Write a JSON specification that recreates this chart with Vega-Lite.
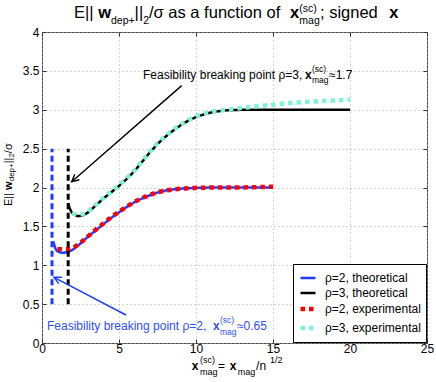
{
  "$schema": "https://vega.github.io/schema/vega-lite/v6.json",
  "width": 385,
  "height": 311,
  "autosize": {"type": "none"},
  "padding": {"left": 42, "top": 32, "right": 9, "bottom": 39},
  "background": "#ffffff",
  "config": {
    "font": "Liberation Sans",
    "view": {"stroke": "#4d4d4d", "strokeWidth": 1},
    "legend": {
      "orient": "bottom-right",
      "offset": 1,
      "fillColor": "#ffffff",
      "strokeColor": "#000000",
      "labelFontSize": 12,
      "labelColor": "#000000",
      "symbolType": "stroke",
      "labelLimit": 200
    }
  },
  "datasets": {
    "theo": [
      {"series": "ρ=2, theoretical", "x": 0.72, "y": 1.31},
      {"series": "ρ=2, theoretical", "x": 0.78, "y": 1.27},
      {"series": "ρ=2, theoretical", "x": 0.88, "y": 1.21},
      {"series": "ρ=2, theoretical", "x": 1.0, "y": 1.18},
      {"series": "ρ=2, theoretical", "x": 1.2, "y": 1.163},
      {"series": "ρ=2, theoretical", "x": 1.4, "y": 1.16},
      {"series": "ρ=2, theoretical", "x": 1.7, "y": 1.17},
      {"series": "ρ=2, theoretical", "x": 2.0, "y": 1.2},
      {"series": "ρ=2, theoretical", "x": 2.5, "y": 1.28},
      {"series": "ρ=2, theoretical", "x": 3.0, "y": 1.37},
      {"series": "ρ=2, theoretical", "x": 3.5, "y": 1.45},
      {"series": "ρ=2, theoretical", "x": 4.0, "y": 1.53},
      {"series": "ρ=2, theoretical", "x": 4.5, "y": 1.61},
      {"series": "ρ=2, theoretical", "x": 5.0, "y": 1.68},
      {"series": "ρ=2, theoretical", "x": 5.5, "y": 1.75},
      {"series": "ρ=2, theoretical", "x": 6.0, "y": 1.81},
      {"series": "ρ=2, theoretical", "x": 6.5, "y": 1.86},
      {"series": "ρ=2, theoretical", "x": 7.0, "y": 1.9},
      {"series": "ρ=2, theoretical", "x": 7.5, "y": 1.935},
      {"series": "ρ=2, theoretical", "x": 8.0, "y": 1.96},
      {"series": "ρ=2, theoretical", "x": 8.5, "y": 1.975},
      {"series": "ρ=2, theoretical", "x": 9.0, "y": 1.985},
      {"series": "ρ=2, theoretical", "x": 10.0, "y": 1.995},
      {"series": "ρ=2, theoretical", "x": 11.0, "y": 2.0},
      {"series": "ρ=2, theoretical", "x": 12.0, "y": 2.0},
      {"series": "ρ=2, theoretical", "x": 13.0, "y": 2.0},
      {"series": "ρ=2, theoretical", "x": 14.0, "y": 2.0},
      {"series": "ρ=2, theoretical", "x": 15.0, "y": 2.0},
      {"series": "ρ=3, theoretical", "x": 1.7, "y": 1.8},
      {"series": "ρ=3, theoretical", "x": 1.78, "y": 1.74},
      {"series": "ρ=3, theoretical", "x": 1.9, "y": 1.69},
      {"series": "ρ=3, theoretical", "x": 2.05, "y": 1.655},
      {"series": "ρ=3, theoretical", "x": 2.25, "y": 1.635},
      {"series": "ρ=3, theoretical", "x": 2.5, "y": 1.635},
      {"series": "ρ=3, theoretical", "x": 2.75, "y": 1.65},
      {"series": "ρ=3, theoretical", "x": 3.0, "y": 1.68},
      {"series": "ρ=3, theoretical", "x": 3.5, "y": 1.77},
      {"series": "ρ=3, theoretical", "x": 4.0, "y": 1.86},
      {"series": "ρ=3, theoretical", "x": 4.5, "y": 1.94},
      {"series": "ρ=3, theoretical", "x": 5.0, "y": 2.02},
      {"series": "ρ=3, theoretical", "x": 5.5, "y": 2.11},
      {"series": "ρ=3, theoretical", "x": 6.0, "y": 2.21},
      {"series": "ρ=3, theoretical", "x": 6.5, "y": 2.33},
      {"series": "ρ=3, theoretical", "x": 7.0, "y": 2.45},
      {"series": "ρ=3, theoretical", "x": 7.5, "y": 2.56},
      {"series": "ρ=3, theoretical", "x": 8.0, "y": 2.65},
      {"series": "ρ=3, theoretical", "x": 8.5, "y": 2.73},
      {"series": "ρ=3, theoretical", "x": 9.0, "y": 2.8},
      {"series": "ρ=3, theoretical", "x": 9.5, "y": 2.86},
      {"series": "ρ=3, theoretical", "x": 10.0, "y": 2.905},
      {"series": "ρ=3, theoretical", "x": 10.5, "y": 2.94},
      {"series": "ρ=3, theoretical", "x": 11.0, "y": 2.965},
      {"series": "ρ=3, theoretical", "x": 11.5, "y": 2.982},
      {"series": "ρ=3, theoretical", "x": 12.0, "y": 2.992},
      {"series": "ρ=3, theoretical", "x": 13.0, "y": 3.0},
      {"series": "ρ=3, theoretical", "x": 14.0, "y": 3.0},
      {"series": "ρ=3, theoretical", "x": 16.0, "y": 3.0},
      {"series": "ρ=3, theoretical", "x": 18.0, "y": 3.0},
      {"series": "ρ=3, theoretical", "x": 20.0, "y": 3.0}
    ],
    "exp": [
      {"series": "ρ=2, experimental", "x": 1.0, "y": 1.21},
      {"series": "ρ=2, experimental", "x": 1.3, "y": 1.205},
      {"series": "ρ=2, experimental", "x": 1.7, "y": 1.205},
      {"series": "ρ=2, experimental", "x": 2.0, "y": 1.22},
      {"series": "ρ=2, experimental", "x": 2.5, "y": 1.29},
      {"series": "ρ=2, experimental", "x": 3.0, "y": 1.375},
      {"series": "ρ=2, experimental", "x": 3.5, "y": 1.46},
      {"series": "ρ=2, experimental", "x": 4.0, "y": 1.54},
      {"series": "ρ=2, experimental", "x": 4.5, "y": 1.62},
      {"series": "ρ=2, experimental", "x": 5.0, "y": 1.69},
      {"series": "ρ=2, experimental", "x": 5.5, "y": 1.755},
      {"series": "ρ=2, experimental", "x": 6.0, "y": 1.815},
      {"series": "ρ=2, experimental", "x": 6.5, "y": 1.865},
      {"series": "ρ=2, experimental", "x": 7.0, "y": 1.905},
      {"series": "ρ=2, experimental", "x": 7.5, "y": 1.94},
      {"series": "ρ=2, experimental", "x": 8.0, "y": 1.96},
      {"series": "ρ=2, experimental", "x": 8.5, "y": 1.975},
      {"series": "ρ=2, experimental", "x": 9.0, "y": 1.985},
      {"series": "ρ=2, experimental", "x": 10.0, "y": 1.995},
      {"series": "ρ=2, experimental", "x": 11.0, "y": 2.0},
      {"series": "ρ=2, experimental", "x": 12.0, "y": 2.0},
      {"series": "ρ=2, experimental", "x": 13.0, "y": 2.0},
      {"series": "ρ=2, experimental", "x": 14.0, "y": 2.005},
      {"series": "ρ=2, experimental", "x": 15.0, "y": 2.01},
      {"series": "ρ=3, experimental", "x": 1.95, "y": 1.665},
      {"series": "ρ=3, experimental", "x": 2.3, "y": 1.65},
      {"series": "ρ=3, experimental", "x": 2.7, "y": 1.66},
      {"series": "ρ=3, experimental", "x": 3.0, "y": 1.69},
      {"series": "ρ=3, experimental", "x": 3.5, "y": 1.78},
      {"series": "ρ=3, experimental", "x": 4.0, "y": 1.87},
      {"series": "ρ=3, experimental", "x": 4.5, "y": 1.95},
      {"series": "ρ=3, experimental", "x": 5.0, "y": 2.03},
      {"series": "ρ=3, experimental", "x": 5.5, "y": 2.12},
      {"series": "ρ=3, experimental", "x": 6.0, "y": 2.22},
      {"series": "ρ=3, experimental", "x": 6.5, "y": 2.34},
      {"series": "ρ=3, experimental", "x": 7.0, "y": 2.46},
      {"series": "ρ=3, experimental", "x": 7.5, "y": 2.57},
      {"series": "ρ=3, experimental", "x": 8.0, "y": 2.66},
      {"series": "ρ=3, experimental", "x": 8.5, "y": 2.74},
      {"series": "ρ=3, experimental", "x": 9.0, "y": 2.81},
      {"series": "ρ=3, experimental", "x": 9.5, "y": 2.87},
      {"series": "ρ=3, experimental", "x": 10.0, "y": 2.915},
      {"series": "ρ=3, experimental", "x": 10.5, "y": 2.95},
      {"series": "ρ=3, experimental", "x": 11.0, "y": 2.975},
      {"series": "ρ=3, experimental", "x": 11.5, "y": 2.99},
      {"series": "ρ=3, experimental", "x": 12.0, "y": 3.0},
      {"series": "ρ=3, experimental", "x": 13.0, "y": 3.025},
      {"series": "ρ=3, experimental", "x": 14.0, "y": 3.045},
      {"series": "ρ=3, experimental", "x": 15.0, "y": 3.065},
      {"series": "ρ=3, experimental", "x": 16.0, "y": 3.085},
      {"series": "ρ=3, experimental", "x": 17.0, "y": 3.1},
      {"series": "ρ=3, experimental", "x": 18.0, "y": 3.11},
      {"series": "ρ=3, experimental", "x": 19.0, "y": 3.12},
      {"series": "ρ=3, experimental", "x": 20.0, "y": 3.13}
    ],
    "vlines": [
      {"which": "rho2", "x": 0.65, "y": 0.5, "y2": 2.5},
      {"which": "rho3", "x": 1.7, "y": 0.5, "y2": 2.5}
    ],
    "arrows": [
      {"which": "rho3", "x": 9.07, "y": 3.31, "x2": 1.93, "y2": 2.075},
      {"which": "rho2", "x": 5.45, "y": 0.36, "x2": 0.78, "y2": 0.845}
    ],
    "tips": [
      {"which": "rho3", "x": 1.93, "y": 2.075},
      {"which": "rho2", "x": 0.78, "y": 0.845}
    ],
    "txt": [
      {"role": "title", "x": 2.078, "y": 4.183, "text": "E||"},
      {"role": "title-b", "x": 3.649, "y": 4.183, "text": "w"},
      {"role": "title-s", "x": 4.481, "y": 4.103, "text": "dep+"},
      {"role": "title", "x": 6.013, "y": 4.183, "text": "||"},
      {"role": "title-s", "x": 6.571, "y": 4.103, "text": "2"},
      {"role": "title", "x": 6.948, "y": 4.183, "text": "/σ as a function of"},
      {"role": "title-b", "x": 16.1, "y": 4.183, "text": "x"},
      {"role": "title-s", "x": 16.71, "y": 4.257, "text": "(sc)"},
      {"role": "title-s", "x": 16.71, "y": 4.103, "text": "mag"},
      {"role": "title", "x": 18.05, "y": 4.183, "text": "; signed"},
      {"role": "title-b", "x": 22.55, "y": 4.183, "text": "x"},
      {"role": "ylab", "x": -1.948, "y": 1.762, "text": "E||"},
      {"role": "ylab-b", "x": -1.948, "y": 1.969, "text": "w"},
      {"role": "ylab-s", "x": -1.786, "y": 2.08, "text": "dep+"},
      {"role": "ylab", "x": -1.948, "y": 2.311, "text": "||"},
      {"role": "ylab-s", "x": -1.786, "y": 2.385, "text": "2"},
      {"role": "ylab", "x": -1.948, "y": 2.442, "text": "/σ"},
      {"role": "xlab-b", "x": 9.72, "y": -0.347, "text": "x"},
      {"role": "xlab-s", "x": 10.26, "y": -0.257, "text": "(sc)"},
      {"role": "xlab-s", "x": 10.26, "y": -0.412, "text": "mag"},
      {"role": "xlab", "x": 11.43, "y": -0.347, "text": "="},
      {"role": "xlab-b", "x": 12.19, "y": -0.347, "text": "x"},
      {"role": "xlab-s", "x": 12.71, "y": -0.412, "text": "mag"},
      {"role": "xlab", "x": 13.9, "y": -0.347, "text": "/n"},
      {"role": "xlab-s", "x": 14.81, "y": -0.257, "text": "1/2"},
      {"role": "ann3", "x": 6.56, "y": 3.395, "text": "Feasibility breaking point ρ=3,"},
      {"role": "ann3-b", "x": 17.08, "y": 3.395, "text": "x"},
      {"role": "ann3-s", "x": 17.53, "y": 3.486, "text": "(sc)"},
      {"role": "ann3-s", "x": 17.53, "y": 3.338, "text": "mag"},
      {"role": "ann3", "x": 18.64, "y": 3.395, "text": "≈1.7"},
      {"role": "ann2", "x": 0.325, "y": 0.161, "text": "Feasibility breaking point ρ=2,"},
      {"role": "ann2-b", "x": 11.1, "y": 0.161, "text": "x"},
      {"role": "ann2-s", "x": 11.56, "y": 0.251, "text": "(sc)"},
      {"role": "ann2-s", "x": 11.56, "y": 0.103, "text": "mag"},
      {"role": "ann2", "x": 12.66, "y": 0.161, "text": "≈0.65"}
    ]
  },
  "layer": [
    {
      "encoding": {
        "x": {
          "field": "x", "type": "quantitative",
          "scale": {"domain": [0, 25], "nice": false, "zero": false},
          "axis": {
            "values": [0, 5, 10, 15, 20, 25], "title": null, "grid": true,
            "gridDash": [1, 3], "gridColor": "#a8a8a8", "domain": false,
            "tickSize": -4, "tickColor": "#333333", "labelFontSize": 12,
            "labelColor": "#000000", "labelPadding": 4, "labelFlush": false
          }
        },
        "y": {
          "field": "y", "type": "quantitative",
          "scale": {"domain": [0, 4], "nice": false, "zero": false},
          "axis": {
            "values": [0, 0.5, 1, 1.5, 2, 2.5, 3, 3.5, 4], "format": "~g",
            "title": null, "grid": true, "gridDash": [1, 3], "gridColor": "#a8a8a8",
            "domain": false, "tickSize": -4, "tickColor": "#333333",
            "labelFontSize": 12, "labelColor": "#000000", "labelPadding": 7,
            "labelFlush": false
          }
        }
      },
      "layer": [
        {
          "data": {"name": "theo"},
          "mark": {"type": "line"},
          "encoding": {
            "color": {
              "field": "series", "type": "nominal",
              "scale": {
                "domain": ["ρ=2, theoretical", "ρ=3, theoretical", "ρ=2, experimental", "ρ=3, experimental"],
                "range": ["#1f3cff", "#000000", "#ff0000", "#80f2d6"]
              },
              "legend": {"title": null, "symbolSize": 225, "rowPadding": -3, "padding": 5, "labelOffset": 7, "symbolStrokeWidth": 3.5}
            },
            "strokeDash": {
              "field": "series", "type": "nominal",
              "scale": {
                "domain": ["ρ=2, theoretical", "ρ=3, theoretical", "ρ=2, experimental", "ρ=3, experimental"],
                "range": [[1, 0], [1, 0], [4.5, 4], [4.5, 4]]
              },
              "legend": {"title": null, "symbolSize": 225, "rowPadding": -3, "padding": 5, "labelOffset": 7, "symbolStrokeWidth": 3.5}
            },
            "strokeWidth": {
              "field": "series", "type": "nominal",
              "scale": {
                "type": "ordinal",
                "domain": ["ρ=2, theoretical", "ρ=3, theoretical", "ρ=2, experimental", "ρ=3, experimental"],
                "range": [2.5, 2.5, 4.5, 4.5]
              },
              "legend": null
            }
          }
        },
        {
          "data": {"name": "exp"},
          "mark": {"type": "line"},
          "encoding": {
            "color": {
              "field": "series", "type": "nominal",
              "scale": {
                "domain": ["ρ=2, theoretical", "ρ=3, theoretical", "ρ=2, experimental", "ρ=3, experimental"],
                "range": ["#1f3cff", "#000000", "#ff0000", "#80f2d6"]
              },
              "legend": {"title": null, "symbolSize": 225, "rowPadding": -3, "padding": 5, "labelOffset": 7, "symbolStrokeWidth": 3.5}
            },
            "strokeDash": {
              "field": "series", "type": "nominal",
              "scale": {
                "domain": ["ρ=2, theoretical", "ρ=3, theoretical", "ρ=2, experimental", "ρ=3, experimental"],
                "range": [[1, 0], [1, 0], [4.5, 4], [4.5, 4]]
              },
              "legend": {"title": null, "symbolSize": 225, "rowPadding": -3, "padding": 5, "labelOffset": 7, "symbolStrokeWidth": 3.5}
            },
            "strokeWidth": {
              "field": "series", "type": "nominal",
              "scale": {
                "type": "ordinal",
                "domain": ["ρ=2, theoretical", "ρ=3, theoretical", "ρ=2, experimental", "ρ=3, experimental"],
                "range": [2.5, 2.5, 4.5, 4.5]
              },
              "legend": null
            }
          }
        },
        {
          "data": {"name": "vlines"},
          "transform": [{"filter": "datum.which === 'rho2'"}],
          "mark": {"type": "rule", "color": "#1f3cff", "strokeWidth": 3, "strokeDash": [6, 3.5]},
          "encoding": {"y2": {"field": "y2"}}
        },
        {
          "data": {"name": "vlines"},
          "transform": [{"filter": "datum.which === 'rho3'"}],
          "mark": {"type": "rule", "color": "#000000", "strokeWidth": 3, "strokeDash": [6, 3.5]},
          "encoding": {"y2": {"field": "y2"}}
        },
        {
          "data": {"name": "arrows"},
          "transform": [{"filter": "datum.which === 'rho3'"}],
          "mark": {"type": "rule", "color": "#000000", "strokeWidth": 1.4},
          "encoding": {"x2": {"field": "x2"}, "y2": {"field": "y2"}}
        },
        {
          "data": {"name": "arrows"},
          "transform": [{"filter": "datum.which === 'rho2'"}],
          "mark": {"type": "rule", "color": "#1f3cff", "strokeWidth": 1.5},
          "encoding": {"x2": {"field": "x2"}, "y2": {"field": "y2"}}
        },
        {
          "data": {"name": "tips"},
          "transform": [{"filter": "datum.which === 'rho3'"}],
          "mark": {"type": "point", "shape": "M-0.5,1L0,0L0.5,1", "filled": false, "stroke": "#000000", "strokeWidth": 1.4, "size": 200, "angle": 229, "opacity": 1}
        },
        {
          "data": {"name": "tips"},
          "transform": [{"filter": "datum.which === 'rho2'"}],
          "mark": {"type": "point", "shape": "M-0.5,1L0,0L0.5,1", "filled": false, "stroke": "#1f3cff", "strokeWidth": 1.5, "size": 200, "angle": 297, "opacity": 1}
        },
        {
          "data": {"name": "txt"},
          "transform": [{"filter": "datum.role === 'title'"}],
          "mark": {"type": "text", "align": "left", "baseline": "alphabetic", "fontSize": 16.5, "color": "#000000"},
          "encoding": {"text": {"field": "text"}}
        },
        {
          "data": {"name": "txt"},
          "transform": [{"filter": "datum.role === 'title-b'"}],
          "mark": {"type": "text", "align": "left", "baseline": "alphabetic", "fontSize": 16.5, "fontWeight": "bold", "color": "#000000"},
          "encoding": {"text": {"field": "text"}}
        },
        {
          "data": {"name": "txt"},
          "transform": [{"filter": "datum.role === 'title-s'"}],
          "mark": {"type": "text", "align": "left", "baseline": "alphabetic", "fontSize": 10.5, "color": "#000000"},
          "encoding": {"text": {"field": "text"}}
        },
        {
          "data": {"name": "txt"},
          "transform": [{"filter": "datum.role === 'ylab'"}],
          "mark": {"type": "text", "align": "left", "baseline": "alphabetic", "fontSize": 11, "angle": 270, "color": "#000000"},
          "encoding": {"text": {"field": "text"}}
        },
        {
          "data": {"name": "txt"},
          "transform": [{"filter": "datum.role === 'ylab-b'"}],
          "mark": {"type": "text", "align": "left", "baseline": "alphabetic", "fontSize": 11, "fontWeight": "bold", "angle": 270, "color": "#000000"},
          "encoding": {"text": {"field": "text"}}
        },
        {
          "data": {"name": "txt"},
          "transform": [{"filter": "datum.role === 'ylab-s'"}],
          "mark": {"type": "text", "align": "left", "baseline": "alphabetic", "fontSize": 8, "angle": 270, "color": "#000000"},
          "encoding": {"text": {"field": "text"}}
        },
        {
          "data": {"name": "txt"},
          "transform": [{"filter": "datum.role === 'xlab'"}],
          "mark": {"type": "text", "align": "left", "baseline": "alphabetic", "fontSize": 12, "color": "#000000"},
          "encoding": {"text": {"field": "text"}}
        },
        {
          "data": {"name": "txt"},
          "transform": [{"filter": "datum.role === 'xlab-b'"}],
          "mark": {"type": "text", "align": "left", "baseline": "alphabetic", "fontSize": 12, "fontWeight": "bold", "color": "#000000"},
          "encoding": {"text": {"field": "text"}}
        },
        {
          "data": {"name": "txt"},
          "transform": [{"filter": "datum.role === 'xlab-s'"}],
          "mark": {"type": "text", "align": "left", "baseline": "alphabetic", "fontSize": 9, "color": "#000000"},
          "encoding": {"text": {"field": "text"}}
        },
        {
          "data": {"name": "txt"},
          "transform": [{"filter": "datum.role === 'ann3'"}],
          "mark": {"type": "text", "align": "left", "baseline": "alphabetic", "fontSize": 12, "color": "#000000"},
          "encoding": {"text": {"field": "text"}}
        },
        {
          "data": {"name": "txt"},
          "transform": [{"filter": "datum.role === 'ann3-b'"}],
          "mark": {"type": "text", "align": "left", "baseline": "alphabetic", "fontSize": 12, "fontWeight": "bold", "color": "#000000"},
          "encoding": {"text": {"field": "text"}}
        },
        {
          "data": {"name": "txt"},
          "transform": [{"filter": "datum.role === 'ann3-s'"}],
          "mark": {"type": "text", "align": "left", "baseline": "alphabetic", "fontSize": 8.5, "color": "#000000"},
          "encoding": {"text": {"field": "text"}}
        },
        {
          "data": {"name": "txt"},
          "transform": [{"filter": "datum.role === 'ann2'"}],
          "mark": {"type": "text", "align": "left", "baseline": "alphabetic", "fontSize": 12, "color": "#2f4ff5"},
          "encoding": {"text": {"field": "text"}}
        },
        {
          "data": {"name": "txt"},
          "transform": [{"filter": "datum.role === 'ann2-b'"}],
          "mark": {"type": "text", "align": "left", "baseline": "alphabetic", "fontSize": 12, "fontWeight": "bold", "color": "#2f4ff5"},
          "encoding": {"text": {"field": "text"}}
        },
        {
          "data": {"name": "txt"},
          "transform": [{"filter": "datum.role === 'ann2-s'"}],
          "mark": {"type": "text", "align": "left", "baseline": "alphabetic", "fontSize": 8.5, "color": "#2f4ff5"},
          "encoding": {"text": {"field": "text"}}
        }
      ]
    },
    {
      "data": {"values": [{"x": 0, "y": 0}]},
      "mark": {"type": "point", "opacity": 0},
      "encoding": {
        "x": {
          "field": "x", "type": "quantitative",
          "scale": {"domain": [0, 25], "nice": false, "zero": false},
          "axis": {"orient": "top", "values": [0, 5, 10, 15, 20, 25], "labels": false, "grid": false, "domain": false, "tickSize": -4, "tickColor": "#333333", "title": null}
        },
        "y": {
          "field": "y", "type": "quantitative",
          "scale": {"domain": [0, 4], "nice": false, "zero": false},
          "axis": {"orient": "right", "values": [0, 0.5, 1, 1.5, 2, 2.5, 3, 3.5, 4], "labels": false, "grid": false, "domain": false, "tickSize": -4, "tickColor": "#333333", "title": null}
        }
      }
    }
  ],
  "resolve": {"axis": {"x": "independent", "y": "independent"}}
}
